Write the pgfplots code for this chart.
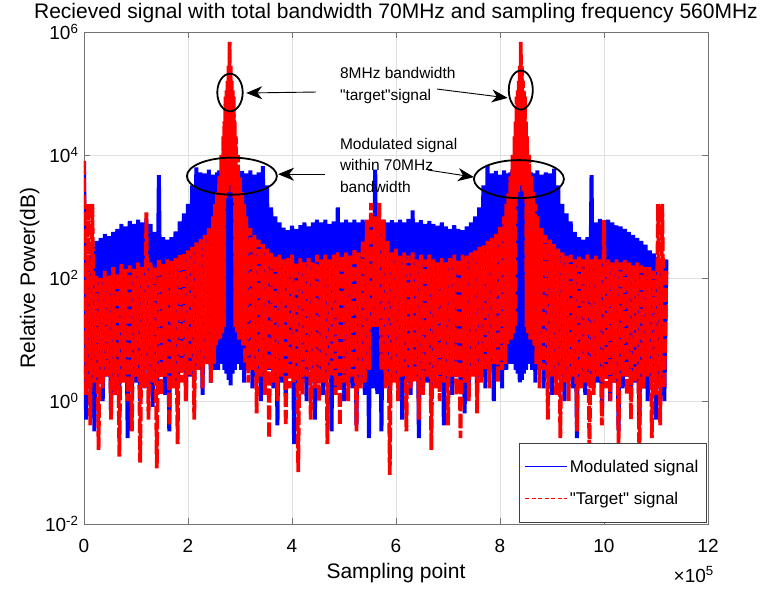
\documentclass[border=0pt]{standalone}
\usepackage{fontspec}
\setmainfont{Liberation Sans}[Ligatures=TeXOff]
\usepackage{pgfplots}
\pgfplotsset{compat=1.18}
\usepackage{pgfplotstable}
\usetikzlibrary{arrows.meta}

\pgfplotstableread{
x y
0.00 8000
0.04 0.5
0.08 200
0.12 1.6
0.16 320
0.20 0.32
0.24 400
0.28 2
0.32 450
0.36 1
0.40 520
0.44 2.5
0.48 480
0.52 0.63
0.56 560
0.60 2
0.64 630
0.68 1.26
0.72 760
0.76 2.5
0.80 690
0.84 0.25
0.88 850
0.92 1.6
0.96 760
1.00 2
1.04 890
1.08 1
1.12 800
1.16 3.2
1.20 930
1.24 1.6
1.28 760
1.32 0.8
1.36 560
1.40 2
1.44 4700
1.48 2.5
1.52 460
1.56 1.26
1.60 420
1.64 0.32
1.68 460
1.72 2
1.76 575
1.80 1.6
1.84 830
1.88 3.2
1.92 1120
1.96 1
2.00 1600
2.04 2.5
2.08 3200
2.12 2
2.16 6300
2.20 3.2
2.24 5200
2.28 1.26
2.32 5000
2.36 4
2.40 5800
2.44 2
2.48 4800
2.52 3.2
2.56 5200
2.58 3.2
2.60 5600
2.62 5
2.64 5000
2.66 4
2.68 6000
2.70 3.2
2.72 5000
2.74 2.8
2.76 5600
2.78 2.2
2.80 6300
2.82 1.8
2.84 5200
2.86 2.8
2.88 5600
2.90 3.2
2.92 5000
2.94 4
2.96 6000
2.98 5
3.00 5200
3.02 3.2
3.04 5500
3.08 2
3.12 5000
3.16 3.2
3.20 5600
3.24 1.6
3.28 4800
3.32 2.5
3.36 5200
3.40 1
3.44 6600
3.48 2
3.52 3200
3.56 3.2
3.60 1400
3.64 1.6
3.68 1000
3.72 0.4
3.76 800
3.80 2
3.84 660
3.88 1.26
3.92 600
3.96 2.5
4.00 710
4.04 0.2
4.08 630
4.12 1.6
4.16 720
4.20 2
4.24 800
4.28 1
4.32 690
4.36 3.2
4.40 800
4.44 0.5
4.48 890
4.52 2
4.56 800
4.60 1.26
4.64 890
4.68 2.5
4.72 760
4.76 0.32
4.80 830
4.84 1.6
4.88 1400
4.92 2
4.96 800
5.00 1
5.04 890
5.08 2.5
5.12 800
5.16 1.6
5.20 890
5.24 0.4
5.28 800
5.32 2
5.36 890
5.40 1.26
5.44 830
5.48 0.25
5.52 890
5.56 1.6
5.60 5800
5.64 1.3
5.68 850
5.72 0.32
5.76 890
5.80 2
5.84 800
5.88 1
5.92 870
5.96 2.5
6.00 800
6.04 1.6
6.08 890
6.12 0.5
6.16 800
6.20 2
6.24 910
6.28 1.26
6.32 1260
6.36 2.5
6.40 800
6.44 0.25
6.48 870
6.52 1.6
6.56 760
6.60 2
6.64 850
6.68 1
6.72 760
6.76 3.2
6.80 710
6.84 1.6
6.88 800
6.92 0.4
6.96 690
7.00 2
7.04 630
7.08 1.26
7.12 720
7.16 2.5
7.20 630
7.24 1.6
7.28 600
7.32 0.63
7.36 690
7.40 2
7.44 800
7.48 3.2
7.52 1000
7.56 1.26
7.60 1400
7.64 2.5
7.68 3200
7.72 1.6
7.76 6900
7.80 3.2
7.84 5000
7.88 1
7.92 5500
7.96 2.5
8.00 4800
8.04 1.6
8.08 5600
8.12 3.2
8.16 5000
8.18 4
8.20 5200
8.22 5
8.24 5800
8.26 4
8.28 5000
8.30 3.2
8.32 5500
8.34 2.8
8.36 5000
8.38 2
8.40 6000
8.42 2.2
8.44 5200
8.46 2.8
8.48 5800
8.50 3.2
8.52 5000
8.54 4
8.56 5600
8.58 5
8.60 5200
8.62 3.2
8.64 5000
8.68 2
8.72 5600
8.76 3.2
8.80 4800
8.84 1.6
8.88 5200
8.92 2.5
8.96 5000
9.00 1.26
9.04 6000
9.08 2
9.12 3200
9.16 2.5
9.20 1600
9.24 1
9.28 1120
9.32 3.2
9.36 830
9.40 1.6
9.44 560
9.48 0.25
9.52 460
9.56 2
9.60 420
9.64 1.26
9.68 460
9.72 2.5
9.76 4700
9.80 1.6
9.84 800
9.88 2
9.92 910
9.96 0.63
10.00 830
10.04 2.5
10.08 890
10.12 1
10.16 800
10.20 2
10.24 720
10.28 0.32
10.32 690
10.36 1.6
10.40 630
10.44 2.5
10.48 560
10.52 1.26
10.56 500
10.60 2
10.64 450
10.68 0.4
10.72 400
10.76 1.6
10.80 350
10.84 1
10.88 280
10.92 2
10.96 250
11.00 0.5
11.04 220
11.08 1.6
11.12 200
11.16 1
11.20 200
}\bluedata

\pgfplotstableread{
x y
0.00 8000
0.04 1.26
0.08 1600
0.12 0.4
0.16 1600
0.20 2
0.24 110
0.28 0.16
0.32 100
0.36 1.6
0.40 130
0.44 2.5
0.48 110
0.52 0.5
0.56 150
0.60 1.26
0.64 120
0.68 0.125
0.72 170
0.76 2
0.80 140
0.84 1
0.88 160
0.92 0.32
0.96 140
1.00 2.5
1.04 180
1.08 0.1
1.12 150
1.16 1.6
1.20 1170
1.24 0.5
1.28 180
1.32 2
1.36 150
1.40 0.08
1.44 200
1.48 1.26
1.52 170
1.56 2.5
1.60 200
1.64 0.4
1.68 190
1.72 1.6
1.76 210
1.80 0.2
1.84 240
1.88 2
1.92 250
1.96 1
2.00 280
2.04 2.5
2.08 320
2.12 0.5
2.16 380
2.20 3.2
2.24 430
2.28 1.6
2.32 500
2.36 4
2.40 650
2.44 2
2.48 1000
2.50 4
2.52 1600
2.54 8
2.56 2500
2.58 10
2.60 4500
2.62 10
2.64 10000
2.66 12.6
2.68 20000
2.69 16
2.70 35000
2.71 2000
2.72 89000
2.73 2500
2.74 112000
2.75 2500
2.76 160000
2.77 3200
2.78 280000
2.79 4000
2.80 690000
2.81 4000
2.82 280000
2.83 3200
2.84 160000
2.85 2500
2.86 112000
2.87 2500
2.88 89000
2.89 2000
2.90 35000
2.91 16
2.92 20000
2.94 12.6
2.96 10000
2.98 10
3.00 4500
3.02 10
3.04 2500
3.06 8
3.08 1600
3.10 4
3.12 1000
3.16 2
3.20 650
3.24 3.2
3.28 500
3.32 0.63
3.36 420
3.40 2.5
3.44 360
3.48 1.26
3.52 300
3.56 0.25
3.60 260
3.64 2
3.68 230
3.72 1
3.76 240
3.80 2.5
3.84 200
3.88 0.4
3.92 210
3.96 1.6
4.00 240
4.04 2
4.08 180
4.12 0.07
4.16 210
4.20 1.26
4.24 180
4.28 2.5
4.32 210
4.36 0.5
4.40 180
4.44 1.6
4.48 240
4.52 1
4.56 200
4.60 2
4.64 240
4.68 0.2
4.72 200
4.76 2.5
4.80 240
4.84 1.26
4.88 260
4.92 0.4
4.96 230
5.00 2
5.04 260
5.08 1
5.12 230
5.16 2.5
5.20 300
5.24 0.32
5.28 260
5.32 1.6
5.36 400
5.40 2
5.44 890
5.48 3.2
5.52 1660
5.56 16
5.60 1000
5.64 16
5.68 1660
5.72 3.2
5.76 890
5.80 1.6
5.84 400
5.88 0.063
5.92 260
5.96 2
6.00 300
6.04 1
6.08 230
6.12 2.5
6.16 260
6.20 0.32
6.24 230
6.28 1.6
6.32 260
6.36 2
6.40 200
6.44 0.5
6.48 240
6.52 1.26
6.56 200
6.60 2.5
6.64 240
6.68 0.16
6.72 200
6.76 1.6
6.80 180
6.84 1
6.88 210
6.92 2
6.96 180
7.00 0.4
7.04 210
7.08 2.5
7.12 240
7.16 1.26
7.20 200
7.24 0.25
7.28 240
7.32 2
7.36 230
7.40 1
7.44 260
7.48 2.5
7.52 280
7.56 0.63
7.60 320
7.64 2
7.68 340
7.72 3.2
7.76 400
7.80 1.6
7.84 450
7.88 4
7.92 520
7.96 2
8.00 680
8.04 3.2
8.08 1000
8.10 4
8.12 1600
8.14 8
8.16 2500
8.18 10
8.20 4500
8.22 10
8.24 10000
8.26 12.6
8.28 20000
8.29 16
8.30 35000
8.31 2000
8.32 89000
8.33 2500
8.34 112000
8.35 2500
8.36 160000
8.37 3200
8.38 280000
8.39 4000
8.40 690000
8.41 4000
8.42 280000
8.43 3200
8.44 160000
8.45 2500
8.46 112000
8.47 2500
8.48 89000
8.49 2000
8.50 35000
8.51 16
8.52 20000
8.54 12.6
8.56 10000
8.58 10
8.60 4500
8.62 10
8.64 2500
8.66 8
8.68 1600
8.70 4
8.72 1000
8.76 1.6
8.80 650
8.84 3.2
8.88 500
8.92 0.5
8.96 420
9.00 2.5
9.04 360
9.08 1.26
9.12 300
9.16 0.25
9.20 260
9.24 2
9.28 230
9.32 1
9.36 240
9.40 2.5
9.44 200
9.48 0.32
9.52 230
9.56 1.6
9.60 200
9.64 2
9.68 240
9.72 0.125
9.76 200
9.80 1.26
9.84 230
9.88 2.5
9.92 200
9.96 0.4
10.00 870
10.04 1.6
10.08 200
10.12 1
10.16 180
10.20 2
10.24 200
10.28 0.2
10.32 180
10.36 2.5
10.40 200
10.44 1.26
10.48 180
10.52 0.5
10.56 160
10.60 2
10.64 180
10.68 0.1
10.72 160
10.76 1.6
10.80 150
10.84 2.5
10.88 150
10.92 0.25
10.96 130
11.00 1.26
11.04 1600
11.08 0.4
11.12 1600
11.16 1.6
11.20 130
}\reddata

\begin{document}
\begin{tikzpicture}
\path[use as bounding box] (-84pt,-65pt) rectangle (680pt,524pt);
\begin{axis}[
  at={(0pt,0pt)}, anchor=south west,
  scale only axis, width=624pt, height=492pt,
  clip mode=individual,
  xmin=0, xmax=12, ymin=1e-2, ymax=1e6, ymode=log,
  xtick={0,2,4,6,8,10,12},
  xticklabels={0,2,4,6,8,10,12},
  ytick={1e-2,1,1e2,1e4,1e6},
  yticklabels={10\textsuperscript{-2},10\textsuperscript{0},10\textsuperscript{2},10\textsuperscript{4},10\textsuperscript{6}},
  xminorticks=false, yminorticks=false,
  grid=major, major grid style={black!12, line width=0.7pt},
  tick align=inside, xtick pos=both, ytick pos=both, major tick length=6pt,
  axis line style={black!55, line width=0.9pt},
  tick style={black!55, line width=0.9pt},
  tick label style={font=\fontsize{19}{22}\selectfont},
  xticklabel style={anchor=base, yshift=-28pt},
  yticklabel style={anchor=east, xshift=-2pt},
  xlabel={Sampling point},
  ylabel={Relative Power(dB)},
  xlabel style={font=\fontsize{21}{25}\selectfont, at={(axis description cs:0.5,0)}, anchor=base, yshift=-54pt},
  ylabel style={font=\fontsize{21}{25}\selectfont, at={(axis description cs:-0.0785,0.5)}, anchor=base},
  title={Recieved signal with total bandwidth 70MHz and sampling frequency 560MHz},
  title style={font=\fontsize{21}{25}\selectfont, at={(axis description cs:0.5,1)}, anchor=base, yshift=7pt},
  legend cell align=left,
  legend style={at={(0.998,0.002)}, anchor=south east, draw=black!75, line width=0.8pt, fill=white,
    font=\fontsize{17}{20}\selectfont, row sep=14pt, inner xsep=6pt, inner ysep=15pt},
]
\addlegendimage{legend image code/.code={\draw[draw=blue, line width=0.9pt] (0pt,0pt) -- (42pt,0pt);}}
\addlegendentry{Modulated signal}
\addlegendimage{legend image code/.code={\draw[draw=red, line width=0.9pt, dash pattern=on 4pt off 2.5pt] (0pt,0pt) -- (42pt,0pt);}}
\addlegendentry{"Target" signal}

\addplot[blue, line width=4pt, forget plot] table {\bluedata};
\addplot[red, line width=3.8pt, dash pattern=on 14pt off 3pt, forget plot] table {\reddata};

% annotations
\draw[black, line width=1.8pt] (rel axis cs:0.234,0.877) ellipse [x radius=12.7pt, y radius=18.8pt];
\draw[black, line width=1.8pt] (rel axis cs:0.700,0.882) ellipse [x radius=12pt, y radius=19.5pt];
\draw[black, line width=1.8pt] (rel axis cs:0.237,0.707) ellipse [x radius=45pt, y radius=18.5pt];
\draw[black, line width=1.8pt] (rel axis cs:0.697,0.701) ellipse [x radius=45pt, y radius=19pt];
\draw[line width=0.9pt, -{Stealth[length=16pt,width=13pt,inset=5pt]}] (rel axis cs:0.372,0.878) -- (rel axis cs:0.260,0.876);
\draw[line width=0.9pt, -{Stealth[length=16pt,width=13pt,inset=5pt]}] (rel axis cs:0.566,0.884) -- (rel axis cs:0.679,0.866);
\draw[line width=0.9pt, -{Stealth[length=16pt,width=13pt,inset=5pt]}] (rel axis cs:0.386,0.711) -- (rel axis cs:0.311,0.711);
\draw[line width=0.9pt, -{Stealth[length=16pt,width=13pt,inset=5pt]}] (rel axis cs:0.551,0.7195) -- (rel axis cs:0.625,0.705);
\node[anchor=north west, align=left, inner sep=0pt, font=\fontsize{15.5}{22}\selectfont] at (rel axis cs:0.410,0.929) {8MHz bandwidth\\"target"signal};
\node[anchor=north west, align=left, inner sep=0pt, font=\fontsize{15.5}{21.5}\selectfont] at (rel axis cs:0.410,0.785) {Modulated signal\\within 70MHz\\bandwidth};
\node[anchor=base east, inner sep=0pt, font=\fontsize{19}{22}\selectfont] at (rel axis cs:1,0) [yshift=-58pt, xshift=6pt] {×10\textsuperscript{5}};
\end{axis}
\end{tikzpicture}
\end{document}
